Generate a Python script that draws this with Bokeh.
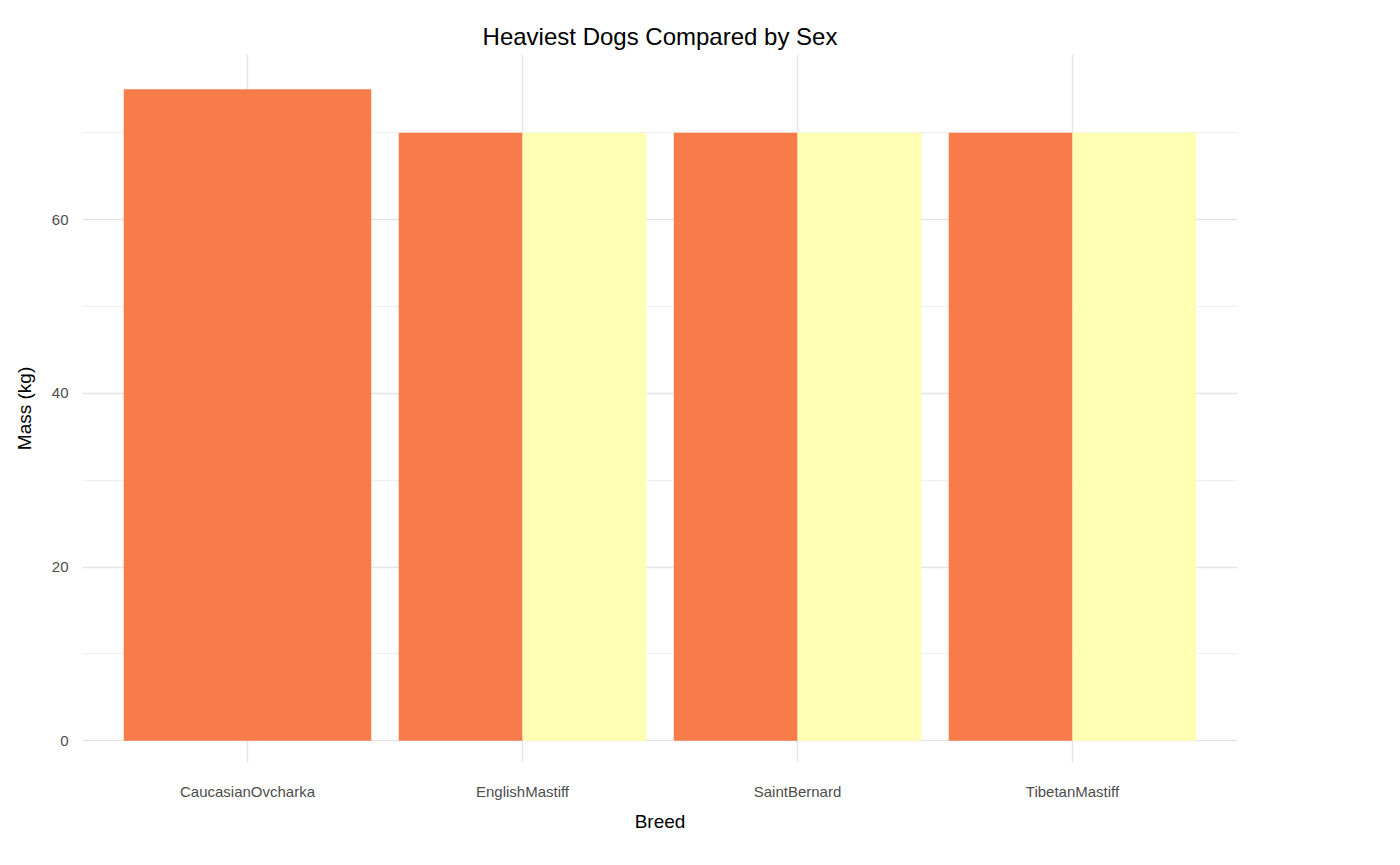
from bokeh.plotting import figure
from bokeh.models import ColumnDataSource, FixedTicker, Legend, LegendItem
from bokeh.embed import file_html
from bokeh.resources import INLINE

BREEDS = ["CaucasianOvcharka", "EnglishMastiff", "SaintBernard", "TibetanMastiff"]
ROW_BREED = ["CaucasianOvcharka", "EnglishMastiff", "EnglishMastiff",
             "SaintBernard", "SaintBernard", "TibetanMastiff", "TibetanMastiff"]
ROW_SEX = ["F", "F", "M", "F", "M", "F", "M"]
ROW_MASS = [75, 70, 70, 70, 70, 70, 70]
SEX_COLORS = {"F": "#F87B4A", "M": "#FFFFB3"}

FONT = "Liberation Sans"

# dodge positions like ggplot position_dodge (total width 0.9)
xs, widths, colors = [], [], []
for b, s in zip(ROW_BREED, ROW_SEX):
    group = [i for i, rb in enumerate(ROW_BREED) if rb == b]
    n = len(group)
    k = [ROW_SEX[i] for i in group].index(s)
    w = 0.9 / n
    xs.append(BREEDS.index(b) - 0.45 + w * (k + 0.5))
    widths.append(w)
    colors.append(SEX_COLORS[s])

src = ColumnDataSource(dict(x=xs, w=widths, top=ROW_MASS, color=colors, sex=ROW_SEX))

p = figure(frame_width=1155, frame_height=708, x_range=(-0.6, 3.6), y_range=(-2.5, 79),
           output_backend="svg", toolbar_location=None,
           title="Heaviest Dogs Compared by Sex",
           min_border_left=82, min_border_right=20, min_border_top=54, min_border_bottom=72)
p.vbar(x="x", width="w", top="top", bottom=0, fill_color="color", line_color=None, source=src)

p.title.align = "center"
p.title.text_font = FONT
p.title.text_font_size = "24px"
p.title.text_font_style = "normal"
p.title.text_color = "black"

p.xaxis.ticker = FixedTicker(ticks=list(range(len(BREEDS))))
p.xaxis.major_label_overrides = {i: b for i, b in enumerate(BREEDS)}
p.yaxis.ticker = FixedTicker(ticks=[0, 20, 40, 60], minor_ticks=[10, 30, 50, 70])
p.xaxis.axis_label = "Breed"
p.yaxis.axis_label = "Mass (kg)"
for ax in (p.xaxis, p.yaxis):
    ax.axis_line_color = None
    ax.major_tick_line_color = None
    ax.minor_tick_line_color = None
    ax.major_label_text_font = FONT
    ax.major_label_text_font_size = "15px"
    ax.major_label_text_color = "#4D4D4D"
    ax.axis_label_text_font = FONT
    ax.axis_label_text_font_size = "19px"
    ax.axis_label_text_font_style = "normal"
    ax.axis_label_text_color = "black"
p.xaxis.major_label_standoff = 14
p.xaxis.axis_label_standoff = 8
p.yaxis.major_label_standoff = 8
p.yaxis.axis_label_standoff = 14

p.xgrid.grid_line_color = "#E5E5E5"
p.xgrid.grid_line_width = 1.5
p.ygrid.grid_line_color = "#E5E5E5"
p.ygrid.grid_line_width = 1.5
p.ygrid.minor_grid_line_color = "#F0F0F0"
p.outline_line_color = None

items = [LegendItem(label=s, renderers=[p.vbar(x=[0], width=0, top=[0], fill_color=c, line_color=None)])
         for s, c in SEX_COLORS.items()]
legend = Legend(items=items, title="Sex", location="center", border_line_color=None,
                glyph_width=43, glyph_height=43, spacing=0, label_text_font=FONT,
                label_text_font_size="16px", title_text_font=FONT, title_text_font_size="19px",
                title_text_font_style="normal", title_standoff=10, padding=0, margin=25)
p.add_layout(legend, "right")

open("out.html", "w").write(file_html(p, INLINE))
